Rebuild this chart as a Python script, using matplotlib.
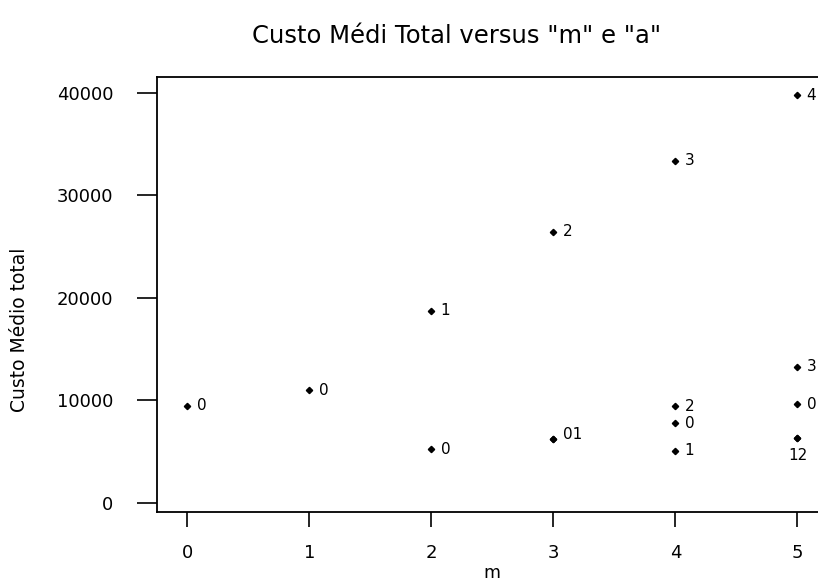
import matplotlib
matplotlib.use("Agg")
import matplotlib.pyplot as plt

# data
m_vals = [0, 1, 2, 2, 3, 3, 3, 4, 4, 4, 4, 5, 5, 5, 5, 5]
a_vals = [0, 0, 0, 1, 0, 1, 2, 0, 1, 2, 3, 0, 1, 2, 3, 4]
custo = [9500, 11000, 5250, 18750, 6200, 6200, 26450, 7800, 5100, 9450,
         33400, 9650, 6300, 6300, 13300, 39800]
x_ticks = [0, 1, 2, 3, 4, 5]
y_ticks = [0, 10000, 20000, 30000, 40000]

plt.rcParams['font.family'] = ['DejaVu Sans']

fig = plt.figure(figsize=(8.18, 5.83), dpi=100)
ax = fig.add_axes([0.1919, 0.1223, 1.0122 - 0.1919, 0.8679 - 0.1223])

ax.plot(m_vals, custo, 'D', color='black', markersize=3.2, clip_on=False)

# group coincident points and join labels
groups = {}
for m, a, c in zip(m_vals, a_vals, custo):
    groups.setdefault((m, c), []).append(str(a))

for (m, c), labs in groups.items():
    txt = "".join(labs)
    if m == 5 and len(labs) > 1:
        ax.annotate(txt, (m, c), xytext=(0, -12), textcoords='offset points',
                    ha='center', va='center', fontsize=11)
    elif len(labs) > 1:
        ax.annotate(txt, (m, c), xytext=(6.5, 3.5), textcoords='offset points',
                    ha='left', va='center', fontsize=11)
    else:
        ax.annotate(txt, (m, c), xytext=(6.5, 0), textcoords='offset points',
                    ha='left', va='center', fontsize=11,
                    annotation_clip=False)

ax.set_xlim(-0.25, 5.25)
ax.set_ylim(-850, 41560)
ax.set_xticks(x_ticks)
ax.set_yticks(y_ticks)
ax.set_xticklabels([str(v) for v in x_ticks])
ax.set_yticklabels([str(v) for v in y_ticks])
ax.tick_params(axis='x', length=11, width=1.2, pad=12, labelsize=13, colors='black')
ax.tick_params(axis='y', length=14.4, width=1.2, pad=17, labelsize=13, colors='black')
for s in ax.spines.values():
    s.set_linewidth(1.3)

fig.text(457 / 818, 1 - 36 / 583, 'Custo Médi Total versus "m" e "a"',
         ha='center', va='center', fontsize=17.5)
fig.text(20 / 818, 1 - 330 / 583, 'Custo Médio total', rotation=90,
         ha='center', va='center', fontsize=13.5)
fig.text(492 / 818, 1 - 573 / 583, 'm', ha='center', va='center', fontsize=12.5)

fig.savefig('out.png', dpi=100)
